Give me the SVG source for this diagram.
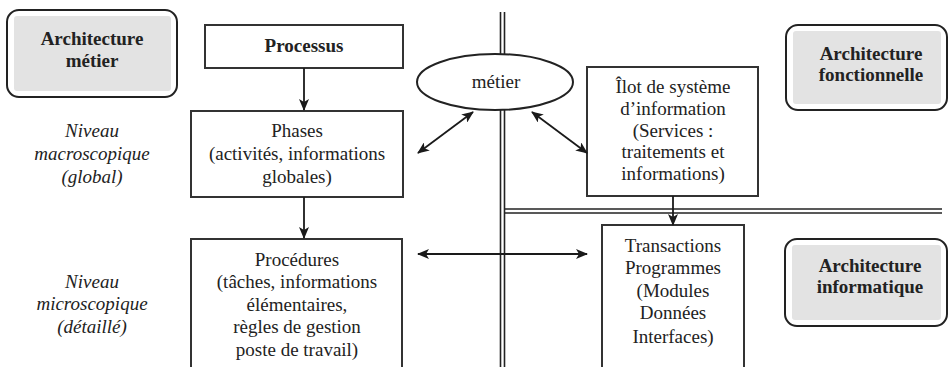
<svg xmlns="http://www.w3.org/2000/svg" width="948" height="367" viewBox="0 0 948 367">
<defs>
<marker id="ah" viewBox="0 0 12 10" refX="11" refY="5" markerWidth="12" markerHeight="10" markerUnits="userSpaceOnUse" orient="auto-start-reverse">
<path d="M0,0 L12,5 L0,10 L3,5 z" fill="#1a1a1a"/>
</marker>
<style>
text{font-family:"Liberation Serif","Times New Roman",serif;font-size:19px;fill:#222;text-anchor:middle}
.b{font-weight:bold}
.i{font-style:italic}
.box{fill:#fff;stroke:#333;stroke-width:2}
.arch{fill:#fff;stroke:#222;stroke-width:2}
.archin{fill:#e3e3e3;stroke:none}
.sep{stroke:#222;stroke-width:1.6;fill:none}
.con{stroke:#1a1a1a;stroke-width:1.8;fill:none}
</style>
</defs>
<rect width="948" height="367" fill="#fff"/>

<g id="separators">
<line class="sep" x1="500.5" y1="12" x2="500.5" y2="367"/>
<line class="sep" x1="504.5" y1="12" x2="504.5" y2="367"/>
<line class="sep" x1="505" y1="209" x2="942" y2="209"/>
<line class="sep" x1="505" y1="213" x2="942" y2="213"/>
</g>

<g id="arch-metier">
<rect class="arch" x="7" y="10" width="170" height="87" rx="12"/>
<rect class="archin" x="14" y="16" width="157" height="75" rx="3"/>
<text class="b" x="92" y="45">Architecture</text>
<text class="b" x="92" y="67">métier</text>
</g>

<g id="arch-fonctionnelle">
<rect class="arch" x="786" y="25" width="161" height="85" rx="12"/>
<rect class="archin" x="793" y="31" width="148" height="73" rx="3"/>
<text class="b" x="871" y="60">Architecture</text>
<text class="b" x="871" y="81">fonctionnelle</text>
</g>

<g id="arch-informatique">
<rect class="arch" x="785" y="239" width="162" height="87" rx="12"/>
<rect class="archin" x="792" y="245" width="149" height="75" rx="3"/>
<text class="b" x="870" y="272">Architecture</text>
<text class="b" x="870" y="293">informatique</text>
</g>

<g id="niveau-macro">
<text class="i" x="92" y="137">Niveau</text>
<text class="i" x="92" y="160">macroscopique</text>
<text class="i" x="92" y="183">(global)</text>
</g>

<g id="niveau-micro">
<text class="i" x="92" y="288">Niveau</text>
<text class="i" x="92" y="310">microscopique</text>
<text class="i" x="92" y="333">(détaillé)</text>
</g>

<g id="processus">
<rect class="box" x="205" y="25" width="198" height="43"/>
<text class="b" x="304" y="52">Processus</text>
</g>

<g id="phases">
<rect class="box" x="191" y="111" width="212" height="86"/>
<text x="297" y="137">Phases</text>
<text x="297" y="160">(activités, informations</text>
<text x="297" y="183">globales)</text>
</g>

<g id="procedures">
<rect class="box" x="191" y="239" width="211" height="140"/>
<text x="297" y="266">Procédures</text>
<text x="297" y="288">(tâches, informations</text>
<text x="297" y="311">élémentaires,</text>
<text x="297" y="333">règles de gestion</text>
<text x="297" y="356">poste de travail)</text>
</g>

<g id="metier">
<ellipse cx="495" cy="82" rx="78" ry="28" fill="#fff" stroke="#222" stroke-width="2"/>
<text x="496" y="88">métier</text>
</g>

<g id="ilot">
<rect class="box" x="587" y="67" width="171" height="129"/>
<text x="673" y="93">Îlot de système</text>
<text x="673" y="115">d’information</text>
<text x="673" y="137">(Services :</text>
<text x="673" y="158">traitements et</text>
<text x="673" y="180">informations)</text>
</g>

<g id="transactions">
<rect class="box" x="602" y="225" width="142" height="155"/>
<text x="673" y="252">Transactions</text>
<text x="673" y="274">Programmes</text>
<text x="673" y="297">(Modules</text>
<text x="673" y="319">Données</text>
<text x="673" y="343">Interfaces)</text>
</g>

<g id="connectors">
<line class="con" x1="304" y1="68" x2="304" y2="110" marker-end="url(#ah)"/>
<line class="con" x1="304" y1="197" x2="304" y2="238" marker-end="url(#ah)"/>
<line class="con" x1="673" y1="196" x2="673" y2="225" marker-end="url(#ah)"/>
<line class="con" x1="418" y1="254" x2="587" y2="254" marker-start="url(#ah)" marker-end="url(#ah)"/>
<line class="con" x1="418" y1="153" x2="473" y2="112" marker-start="url(#ah)" marker-end="url(#ah)"/>
<line class="con" x1="532" y1="112" x2="587" y2="153" marker-start="url(#ah)" marker-end="url(#ah)"/>
</g>
</svg>
